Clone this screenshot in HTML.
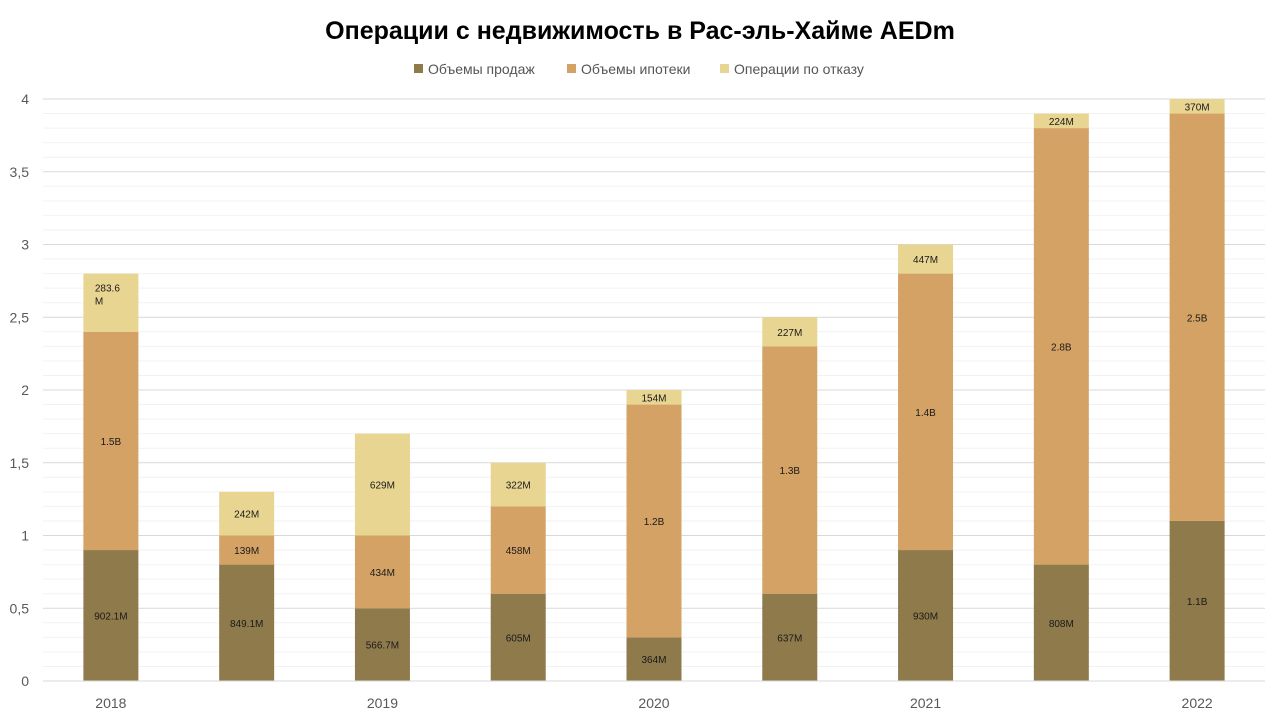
<!DOCTYPE html>
<html><head><meta charset="utf-8"><style>
body{margin:0;background:#fff;width:1280px;height:720px;overflow:hidden;font-family:"Liberation Sans","DejaVu Sans",sans-serif}
</style></head><body>
<svg id="chart" width="1280" height="720" xmlns="http://www.w3.org/2000/svg">
<text x="640" y="39" text-anchor="middle" font-size="25" font-weight="bold" fill="#000">Операции с недвижимость в Рас-эль-Хайме AEDm</text>
<g font-size="14" fill="#555">
<rect x="414" y="64" width="9" height="9" fill="#8F7A4C"/>
<text x="428" y="74">Объемы продаж</text>
<rect x="567" y="64" width="9" height="9" fill="#D4A265"/>
<text x="581" y="74">Объемы ипотеки</text>
<rect x="720" y="64" width="9" height="9" fill="#E8D592"/>
<text x="734" y="74">Операции по отказу</text>
</g>
<g id="grid"></g><g id="bars"></g><g id="labels"></g><g id="axes"></g>
</svg>
<script>
const categories=["2018","","2019","","2020","","2021","","2022"];
const sales=[0.9,0.8,0.5,0.6,0.3,0.6,0.9,0.8,1.1];
const mortgage=[1.5,0.2,0.5,0.6,1.6,1.7,1.9,3.0,2.8];
const refusal=[0.4,0.3,0.7,0.3,0.1,0.2,0.2,0.1,0.1];
const salesLabels=["902.1M","849.1M","566.7M","605M","364M","637M","930M","808M","1.1B"];
const mortgageLabels=["1.5B","139M","434M","458M","1.2B","1.3B","1.4B","2.8B","2.5B"];
const refusalLabels=["283.6\nM","242M","629M","322M","154M","227M","447M","224M","370M"];
const yTicks=[0,0.5,1,1.5,2,2.5,3,3.5,4];
const yTickLabels=["0","0,5","1","1,5","2","2,5","3","3,5","4"];

const NS="http://www.w3.org/2000/svg";
const X0=43,X1=1265,Y0=681,Y1=99,YMAX=4;
const band=(X1-X0)/categories.length, bw=55;
const y=v=>Y0-(v/YMAX)*(Y0-Y1);
const xc=i=>X0+band*(i+0.5);
function mk(tag,attrs,parent){const e=document.createElementNS(NS,tag);for(const k in attrs)e.setAttribute(k,attrs[k]);parent.appendChild(e);return e;}
const grid=document.getElementById('grid'),bars=document.getElementById('bars'),labels=document.getElementById('labels'),axes=document.getElementById('axes');
for(let k=1;k<=40;k++){
  if(k%5===0)continue;
  const l=mk('line',{x1:X0,x2:X1,y1:y(k/10),y2:y(k/10),stroke:'#F2F2F2','stroke-width':1},grid);
  
  
}
yTicks.forEach((t,i)=>{
  if(t>0){const l=mk('line',{x1:X0,x2:X1,y1:y(t),y2:y(t),stroke:'#D9D9D9','stroke-width':1},grid);
  
  }
  const tx=mk('text',{x:29,y:y(t)+5,'text-anchor':'end','font-size':14,fill:'#595959'},axes);
  tx.textContent=yTickLabels[i];
  
  
});
const base=mk('line',{x1:X0,x2:X1,y1:Y0,y2:Y0,stroke:'#D9D9D9','stroke-width':1},axes);


const series=[[sales,salesLabels,'#8F7A4C','sales'],[mortgage,mortgageLabels,'#D4A265','mortgage'],[refusal,refusalLabels,'#E8D592','refusal']];
categories.forEach((c,i)=>{
  let cum=0;
  series.forEach(([vals,labs,col,nm])=>{
    const v=vals[i];const yt=y(cum+v),yb=y(cum);
    const r=mk('rect',{x:xc(i)-bw/2,y:yt,width:bw,height:yb-yt,fill:col},bars);
    
    
    const lines=labs[i].split('\n');const my=(yt+yb)/2;
    const t=mk('text',{'font-size':10,fill:'#1a1a1a','text-anchor':lines.length>1?'start':'middle'},labels);
    
    
    if(lines.length>1){
      lines.forEach((ln,j)=>{const s=mk('tspan',{x:xc(i)-16,y:yt+18+j*13},t);s.textContent=ln;});
    } else {t.setAttribute('x',xc(i));t.setAttribute('y',my+4);t.textContent=lines[0];}
    cum+=v;
  });
  if(c){const t=mk('text',{x:xc(i),y:708,'text-anchor':'middle','font-size':14,fill:'#595959'},axes);
  t.textContent=c;
  
  }
});
</script>
</body></html>
